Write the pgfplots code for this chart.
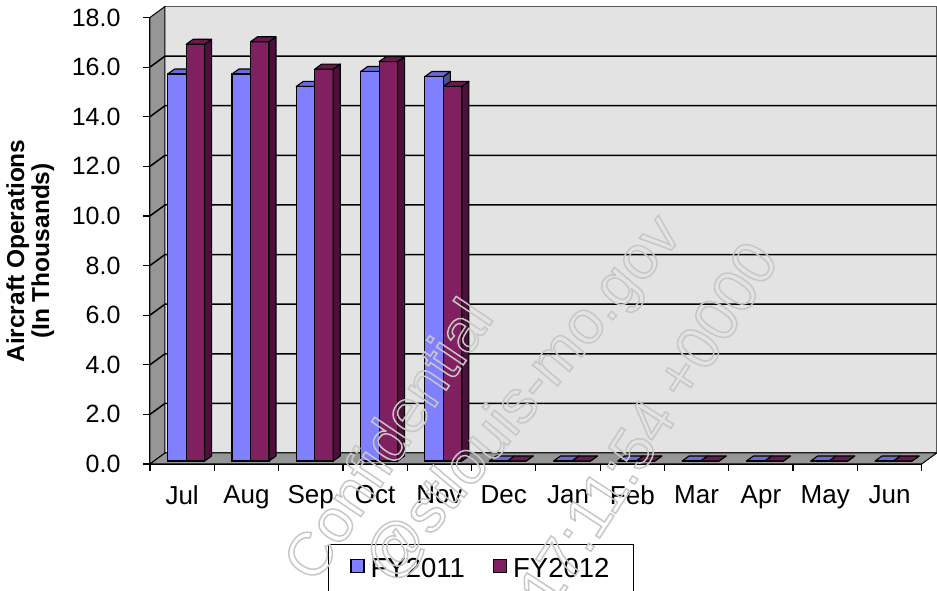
\documentclass[border=0pt]{standalone}
\usepackage{pgfplots}
\pgfplotsset{compat=1.18}
\usepackage{pgfplotstable}
\usepackage{fontspec}
\setmainfont{Liberation Sans}
\definecolor{fyA}{HTML}{8080FF}
\definecolor{fyAtop}{HTML}{6A6AD6}
\definecolor{fyAside}{HTML}{4D4D99}
\definecolor{fyB}{HTML}{802060}
\definecolor{fyBtop}{HTML}{681A4E}
\definecolor{fyBside}{HTML}{4A1238}
\definecolor{wallback}{HTML}{E3E3E3}
\definecolor{wallgray}{HTML}{969696}

\pgfplotstableread{
x FYa FYb
0 15.6 16.8
1 15.6 16.9
2 15.1 15.8
3 15.7 16.1
4 15.5 15.1
5 0 0
6 0 0
7 0 0
8 0 0
9 0 0
10 0 0
11 0 0
}\datatable

\pgfplotsset{
  face3d/.style n args={3}{%
    scatter, only marks, mark=*, mark size=0pt,
    mark options={draw=none,fill=none},
    forget plot,
    visualization depends on={rawy \as \barh},
    scatter/@pre marker code/.code={%
      \pgfmathsetmacro\Hh{\barh*24.8056}%
      \pgfmathsetmacro\Ll{#1-9.25}%
      \pgfmathsetmacro\Rr{#1+9.25}%
      \filldraw[fill=#3, draw=black, line width=1.1pt, line join=round]
        (\Rr pt,3pt) -- ++(7pt,5pt) -- ++(0pt,-\Hh pt) -- ++(-7pt,-5pt) -- cycle;
      \filldraw[fill=#2, draw=black, line width=1.1pt, line join=round]
        (\Ll pt,3pt) -- ++(7pt,5pt) -- (\Rr pt+7pt,8pt) -- (\Rr pt,3pt) -- cycle;
    },
    scatter/@post marker code/.code={},
  },
}

\begin{document}
\begin{tikzpicture}
\useasboundingbox (0,0) rectangle (937pt,591pt);
\begin{axis}[
  at={(150pt,127pt)}, anchor=south west,
  scale only axis, width=771.7pt, height=446.5pt,
  xmin=-0.5, xmax=11.5, ymin=0, ymax=18,
  clip=false, clip marker paths=true,
  axis x line*=bottom, axis y line*=left,
  axis line style={black, line width=1.2pt, -},
  xtick={-0.5,0.5,...,11.5},
  x tick label as interval,
  xticklabels={Jul,Aug,Sep,Oct,Nov,Dec,Jan,Feb,Mar,Apr,May,Jun},
  ytick={0,2,...,18},
  /pgf/number format/assume math mode=true,
  yticklabel style={xshift=-19pt, font=\fontsize{25}{28}\selectfont, /pgf/number format/fixed, /pgf/number format/fixed zerofill, /pgf/number format/precision=1},
  xticklabel style={yshift=-11pt, font=\fontsize{26}{28}\selectfont},
  tick align=outside, major tick length=7pt,
  tick style={black, line width=1.2pt},
  every axis y label/.style={at={(axis description cs:-0.155,0.477)}, rotate=90, anchor=center,
     font=\bfseries\fontsize{24.5}{25}\selectfont, align=center},
  ylabel={Aircraft Operations\\(In Thousands)},
  legend columns=2,
  legend style={at={(axis description cs:0.2307,-0.179)}, anchor=north west,
     draw=black, line width=0.8pt, fill=white, font=\fontsize{27.5}{30}\selectfont,
     inner xsep=22pt, inner ysep=12pt,
     /tikz/every odd column/.append style={column sep=4pt},
     /tikz/every even column/.append style={column sep=26pt}},
]
% walls
\fill[wallback, draw=gray!70!black, line width=1pt] ([shift={(15pt,11pt)}]axis cs:-0.5,0) rectangle ([shift={(15pt,11pt)}]axis cs:11.5,18);
\filldraw[fill=wallgray, draw=black, line width=1pt] (axis cs:-0.5,0) -- (axis cs:-0.5,18) -- ([shift={(15pt,11pt)}]axis cs:-0.5,18) -- ([shift={(15pt,11pt)}]axis cs:-0.5,0) -- cycle;
\filldraw[fill=wallgray, draw=black, line width=1pt] (axis cs:-0.5,0) -- (axis cs:11.5,0) -- ([shift={(15pt,11pt)}]axis cs:11.5,0) -- ([shift={(15pt,11pt)}]axis cs:-0.5,0) -- cycle;
\pgfplotsinvokeforeach{2,4,6,8,10,12,14,16}{
  \draw[black, line width=1.5pt] (axis cs:-0.5,#1) -- ([shift={(15pt,11pt)}]axis cs:-0.5,#1) -- ([shift={(15pt,11pt)}]axis cs:11.5,#1);
}
% bars
\addplot[face3d={-5.25}{fyAtop}{fyAside}] table[x=x, y=FYa] {\datatable};
\addplot[ybar, bar width=18.5pt, bar shift=-5.25pt, yshift=3pt, fill=fyA, draw=black, line width=1.1pt,
  legend image code/.code={\draw[fill=fyA, draw=black, line width=1.2pt] (0pt,-6.5pt) rectangle (13pt,6.5pt);}]
  table[x=x, y=FYa] {\datatable};
\addlegendentry{FY2011}
\addplot[ybar, bar width=18.5pt, bar shift=13.25pt, yshift=3pt, fill=fyB, draw=black, line width=1.1pt,
  legend image code/.code={\draw[fill=fyB, draw=black, line width=1.2pt] (0pt,-6.5pt) rectangle (13pt,6.5pt);}]
  table[x=x, y=FYb] {\datatable};
\addlegendentry{FY2012}
\addplot[face3d={13.25}{fyBtop}{fyBside}] table[x=x, y=FYb] {\datatable};
\end{axis}
% watermark
\begin{scope}[every node/.style={text=black!22, font=\fontsize{61}{64}\selectfont}]
\node[rotate=56] at (387pt,152pt) {\special{pdf:code q 1 Tr 1.5 w}Confidential\special{pdf:code Q}};
\node[rotate=50] at (525pt,191pt) {\special{pdf:code q 1 Tr 1.5 w}@stlouis-mo.gov\special{pdf:code Q}};
\node[rotate=57] at (648pt,166pt) {\special{pdf:code q 1 Tr 1.5 w}17:11:54 +0000\special{pdf:code Q}};
\end{scope}
\end{tikzpicture}
\end{document}
